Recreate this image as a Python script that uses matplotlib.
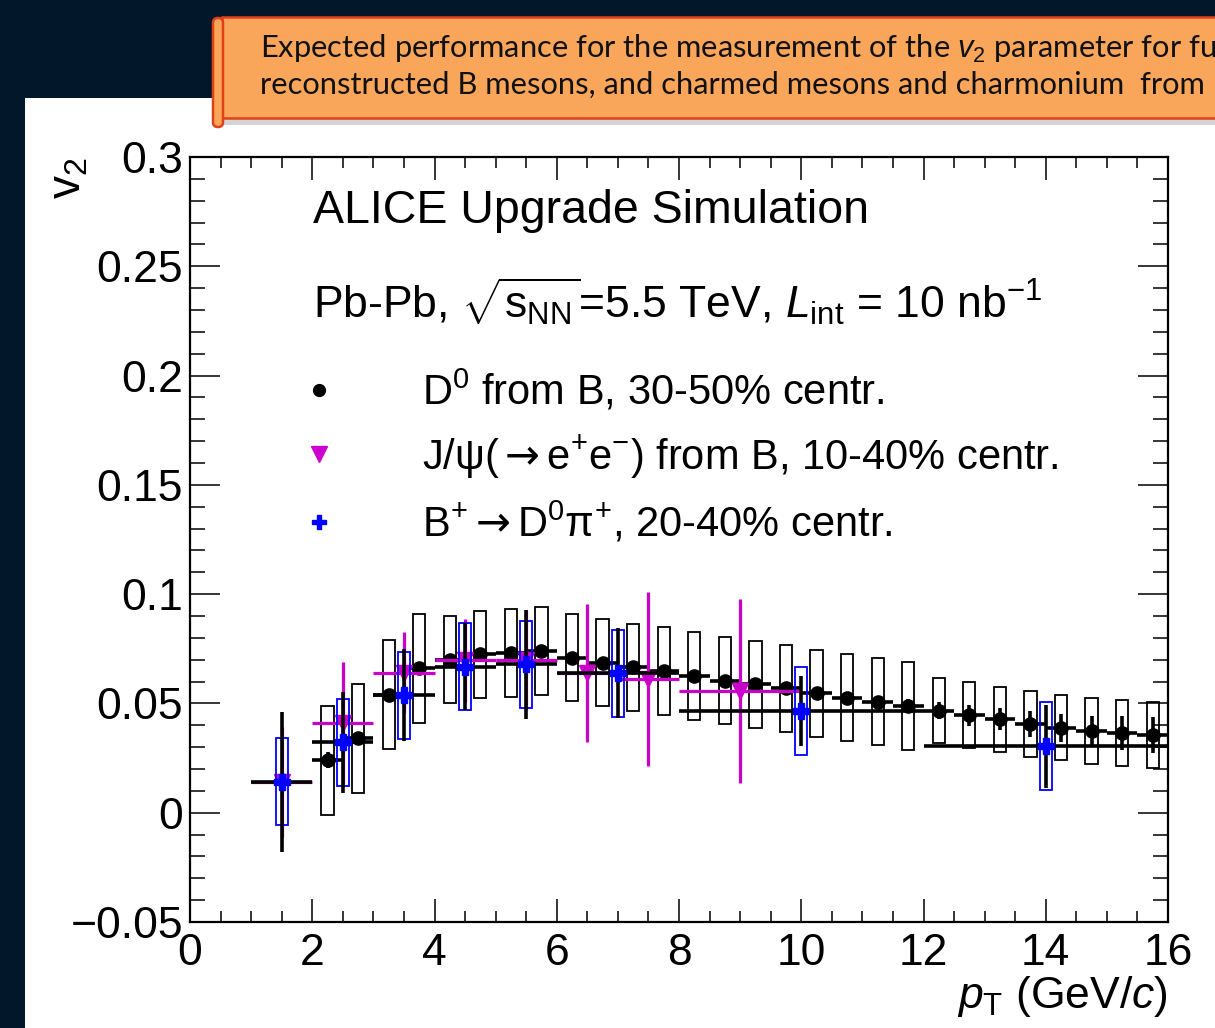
import numpy as np
import matplotlib.pyplot as plt
from matplotlib.patches import Rectangle, FancyBboxPatch
from matplotlib.lines import Line2D
from matplotlib.ticker import MultipleLocator

plt.rcParams['font.family'] = ['Liberation Sans', 'DejaVu Sans']
plt.rcParams['mathtext.fontset'] = 'custom'
plt.rcParams['mathtext.rm'] = 'Liberation Sans'
plt.rcParams['mathtext.it'] = 'Liberation Sans:italic'
plt.rcParams['mathtext.bf'] = 'Liberation Sans:bold'
plt.rcParams['mathtext.sf'] = 'DejaVu Sans'

# D0 from B, 30-50% centrality
d0_pt = [2.25, 2.75, 3.25, 3.75, 4.25, 4.75, 5.25, 5.75, 6.25, 6.75, 7.25, 7.75,
         8.25, 8.75, 9.25, 9.75, 10.25, 10.75, 11.25, 11.75, 12.25, 12.75, 13.25,
         13.75, 14.25, 14.75, 15.25, 15.75]
d0_v2 = [0.024, 0.034, 0.054, 0.066, 0.070, 0.0725, 0.073, 0.074, 0.071, 0.0686,
         0.0665, 0.0648, 0.0625, 0.0604, 0.0587, 0.0569, 0.0546, 0.0526, 0.0508,
         0.0488, 0.0467, 0.0446, 0.0427, 0.0406, 0.0389, 0.0375, 0.0366, 0.0355]
d0_stat = [0.0037, 0.003, 0.0025, 0.0025, 0.0025, 0.0025, 0.0025, 0.0025, 0.0025,
           0.0025, 0.0025, 0.0025, 0.0025, 0.0025, 0.0025, 0.0025, 0.0025, 0.0025,
           0.0028, 0.003, 0.0038, 0.0047, 0.005, 0.0059, 0.0064, 0.0069, 0.0078, 0.0084]
d0_syst = [0.025, 0.025, 0.025, 0.025, 0.02, 0.02, 0.02, 0.02, 0.02, 0.02, 0.02, 0.02,
           0.02, 0.02, 0.02, 0.02, 0.02, 0.02, 0.02, 0.02, 0.015, 0.015, 0.015, 0.015,
           0.015, 0.015, 0.015, 0.015]

# J/psi from B, 10-40% centrality
jpsi_pt = [1.5, 2.5, 3.5, 4.5, 5.5, 6.5, 7.5, 9.0]
jpsi_ptw = [0.5, 0.5, 0.5, 0.5, 0.5, 0.5, 0.5, 1.0]
jpsi_v2 = [0.014, 0.041, 0.064, 0.0698, 0.0698, 0.064, 0.0612, 0.0558]
jpsi_err = [0.025, 0.028, 0.0185, 0.019, 0.023, 0.0315, 0.040, 0.042]

# B+ -> D0 pi+, 20-40% centrality
bp_pt = [1.5, 2.5, 3.5, 4.5, 5.5, 7.0, 10.0, 14.0]
bp_ptw = [0.5, 0.5, 0.5, 0.5, 0.5, 1.0, 2.0, 2.0]
bp_v2 = [0.0142, 0.0322, 0.0537, 0.0668, 0.0679, 0.0638, 0.0465, 0.0305]
bp_stat = [0.032, 0.023, 0.021, 0.020, 0.025, 0.0205, 0.016, 0.019]
bp_syst = [0.020, 0.020, 0.020, 0.020, 0.020, 0.020, 0.020, 0.020]

y_ticks = [-0.05, 0, 0.05, 0.1, 0.15, 0.2, 0.25, 0.3]
y_labels = ['\u22120.05', '0', '0.05', '0.1', '0.15', '0.2', '0.25', '0.3']

W, H = 1215, 1028
fig = plt.figure(figsize=(W / 100, H / 100), dpi=100)
fig.patch.set_facecolor('#03172a')

# white slide panel
fig.add_artist(Rectangle((25 / W, 0), 1, 1 - 98 / H, transform=fig.transFigure,
                         fc='white', ec='none', zorder=0))

# orange banner (cut by the right edge of the slide)
fig.add_artist(Rectangle((222 / W, 1 - 125 / H), 1, (125 - 118) / H, transform=fig.transFigure,
                         fc='#b8b8b8', ec='none', alpha=0.6, zorder=1))
fig.add_artist(Rectangle((222 / W, 1 - 118 / H), 1, (118 - 17) / H, transform=fig.transFigure,
                         fc='#f9a65a', ec='#e0401a', lw=1.8, zorder=2))
fig.add_artist(FancyBboxPatch((213 / W, 1 - 127 / H), 10 / W, (127 - 18) / H,
                              boxstyle='round,pad=0,rounding_size=0.004',
                              mutation_aspect=W / H, transform=fig.transFigure,
                              fc='#f9a65a', ec='#e0401a', lw=1.8, zorder=3))
banner_font = ['Lato', 'DejaVu Sans']
fig.text(260 / W, 1 - 58 / H,
         'Expected performance for the measurement of the $v_{2}$ parameter for fu',
         fontsize=22.2, family=banner_font, color='#111111', va='baseline', zorder=4)
fig.text(260 / W, 1 - 94 / H,
         'reconstructed B mesons, and charmed mesons and charmonium  from',
         fontsize=22.2, family=banner_font, color='#111111', va='baseline', zorder=4)

ax = fig.add_axes([190 / W, 1 - 922 / H, (1168 - 190) / W, (922 - 157) / H])
ax.set_facecolor('white')

# systematic boxes
for x, y, s in zip(d0_pt, d0_v2, d0_syst):
    ax.add_patch(Rectangle((x - 0.1, y - s), 0.2, 2 * s, fill=False, ec='black', lw=1.3, zorder=2))
for x, y, s in zip(bp_pt, bp_v2, bp_syst):
    ax.add_patch(Rectangle((x - 0.1, y - s), 0.2, 2 * s, fill=False, ec='#0000ff', lw=1.3, zorder=5))

ax.errorbar(d0_pt, d0_v2, xerr=0.25, yerr=d0_stat, fmt='o', color='black', ms=9.5,
            elinewidth=2.6, capsize=0, zorder=3)
ax.errorbar(jpsi_pt, jpsi_v2, xerr=jpsi_ptw, yerr=jpsi_err, fmt='v', color='#cc00cc', ms=11,
            elinewidth=2.3, capsize=0, zorder=4)
ax.errorbar(bp_pt, bp_v2, xerr=bp_ptw, yerr=bp_stat, fmt='P', mfc='#0000ff', mec='#0000ff',
            ecolor='black', ms=12, elinewidth=2.6, capsize=0, zorder=6)

ax.set_xlim(0, 16)
ax.set_ylim(-0.05, 0.3)
ax.set_xticks(np.arange(0, 17, 2))
ax.xaxis.set_minor_locator(MultipleLocator(0.5))
ax.set_yticks(y_ticks)
ax.set_yticklabels(y_labels)
ax.yaxis.set_minor_locator(MultipleLocator(0.01))
ax.tick_params(which='both', direction='in', top=True, right=True, width=1.1, labelsize=32)
ax.tick_params(axis='x', which='major', length=16.5, pad=8)
ax.tick_params(axis='x', which='minor', length=8)
ax.tick_params(axis='y', which='major', length=21.6, pad=5)
ax.tick_params(axis='y', which='minor', length=10.8)
for sp in ax.spines.values():
    sp.set_linewidth(1.6)

ax.set_xlabel(r'$p_{\rm T}$ (GeV/$c$)', fontsize=32, loc='right', labelpad=0)
ax.set_ylabel(r'v$_{2}$', fontsize=33, loc='top')
ax.yaxis.set_label_coords(-0.102, 1.0)

ax.text(0.126, 0.93, 'ALICE Upgrade Simulation', transform=ax.transAxes, fontsize=33.5, va='center')
ax.text(0.126, 0.81, r'Pb-Pb, $\sqrt{\mathrm{s}_{\rm NN}}$=5.5 TeV, $L_{\rm int}$ = 10 nb$^{-1}$',
        transform=ax.transAxes, fontsize=32, va='center')

arrow = r'$\mathsf{\rightarrow}$'
handles = [Line2D([], [], ls='none', marker='o', color='black', ms=8.5),
           Line2D([], [], ls='none', marker='v', color='#cc00cc', ms=11),
           Line2D([], [], ls='none', marker='P', color='#0000ff', ms=10)]
labels = [r'D$^{0}$ from B, 30-50% centr.',
          'J/\u03c8(' + arrow + r'e$^{+}$e$^{-}$) from B, 10-40% centr.',
          r'B$^{+}$' + arrow + 'D$^{0}$\u03c0$^{+}$, 20-40% centr.']
ax.legend(handles, labels, loc='upper left', bbox_to_anchor=(0.094, 0.746), frameon=False,
          fontsize=30, handlelength=1.0, handletextpad=1.95, labelspacing=0.47, borderaxespad=0)

fig.savefig('out.png', dpi=100, facecolor=fig.get_facecolor())
